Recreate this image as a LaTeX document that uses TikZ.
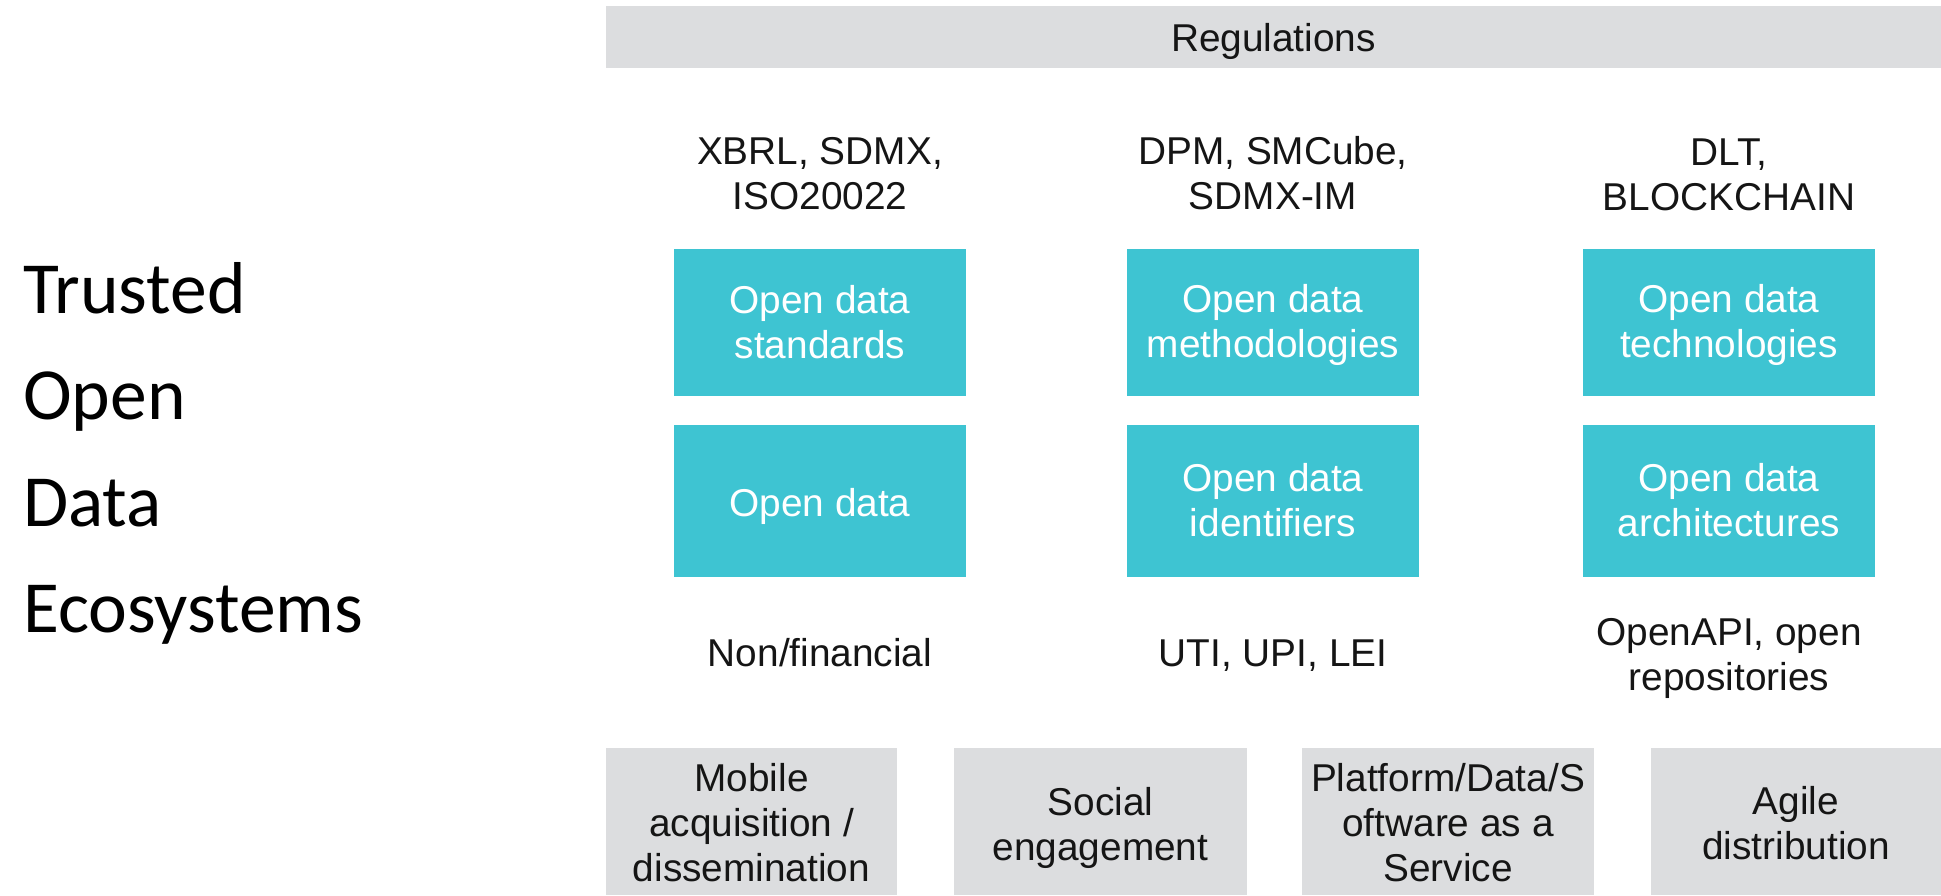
\documentclass[tikz,border=0pt]{standalone}
\usepackage{fontspec}
\setmainfont{Liberation Sans}
\newfontfamily\calfont{Carlito}
\definecolor{tealbox}{HTML}{3EC4D2}
\definecolor{greybox}{HTML}{DCDDDF}
\definecolor{ink}{HTML}{151515}
\begin{document}
\begin{tikzpicture}[x=1pt,y=-1pt,
  labeltext/.style={font=\fontsize{38.8}{45}\selectfont, text=ink, align=center, inner sep=0pt},
  tealnode/.style={fill=tealbox, draw=none, text=white, align=center, font=\fontsize{38.8}{45}\selectfont, inner sep=0pt},
  greynode/.style={fill=greybox, draw=none, text=ink, align=center, font=\fontsize{38.8}{45}\selectfont, inner sep=0pt},
  bigtext/.style={font=\calfont\fontsize{73.5}{106}\selectfont, text=black, anchor=base west, inner sep=0pt}]
\useasboundingbox[fill=white] (0,0) rectangle (1941,895);

% Regulations bar
\fill[greybox] (606,6) rectangle (1941,68);
\node[labeltext] (reg) at (1273.5,41) {Regulations};

% left title
\node[bigtext] (t1) at (23,313) {Trusted};
\node[bigtext] (t2) at (23,419) {Open};
\node[bigtext] (t3) at (23,526) {Data};
\node[bigtext] (t4) at (23,632) {Ecosystems};

% top labels
\node[labeltext] (top1) at (820,173.5) {XBRL, SDMX,\\ISO20022};
\node[labeltext] (top2) at (1273,173.5) {DPM, SMCube,\\SDMX-IM};
\node[labeltext] (top3) at (1729,175) {DLT,\\BLOCKCHAIN};

% teal boxes row 1
\fill[tealbox] (674,249) rectangle (966,396);
\fill[tealbox] (1127,249) rectangle (1419,396);
\fill[tealbox] (1583,249) rectangle (1875,396);
\node[tealnode] (std) at (820,322) {Open data\\standards};
\node[tealnode] (meth) at (1273,325) {Open data\\methodologies};
\node[tealnode] (tech) at (1729,325) {Open data\\technologies};

% teal boxes row 2
\fill[tealbox] (674,425) rectangle (966,577);
\fill[tealbox] (1127,425) rectangle (1419,577);
\fill[tealbox] (1583,425) rectangle (1875,577);
\node[tealnode] (od) at (820,506) {Open data};
\node[tealnode] (ident) at (1273,500) {Open data\\identifiers};
\node[tealnode] (arch) at (1729,500) {Open data\\architectures};

% bottom labels
\node[labeltext] (bot1) at (820,653) {Non/financial};
\node[labeltext] (bot2) at (1273,655.5) {UTI, UPI, LEI};
\node[labeltext] (bot3) at (1729,658) {OpenAPI, open\\repositories};

% bottom grey boxes
\fill[greybox] (606,748) rectangle (897,895);
\fill[greybox] (954,748) rectangle (1247,895);
\fill[greybox] (1302,748) rectangle (1594,895);
\fill[greybox] (1651,748) rectangle (1941,895);
\node[greynode] (mob) at (751.5,822.5) {Mobile\\acquisition /\\dissemination};
\node[greynode] (soc) at (1100.5,827.5) {Social\\engagement};
\node[greynode] (plat) at (1448,822.5) {Platform/Data/S\\oftware as a\\Service};
\node[greynode] (agile) at (1796,823.5) {Agile\\distribution};
\end{tikzpicture}
\end{document}
